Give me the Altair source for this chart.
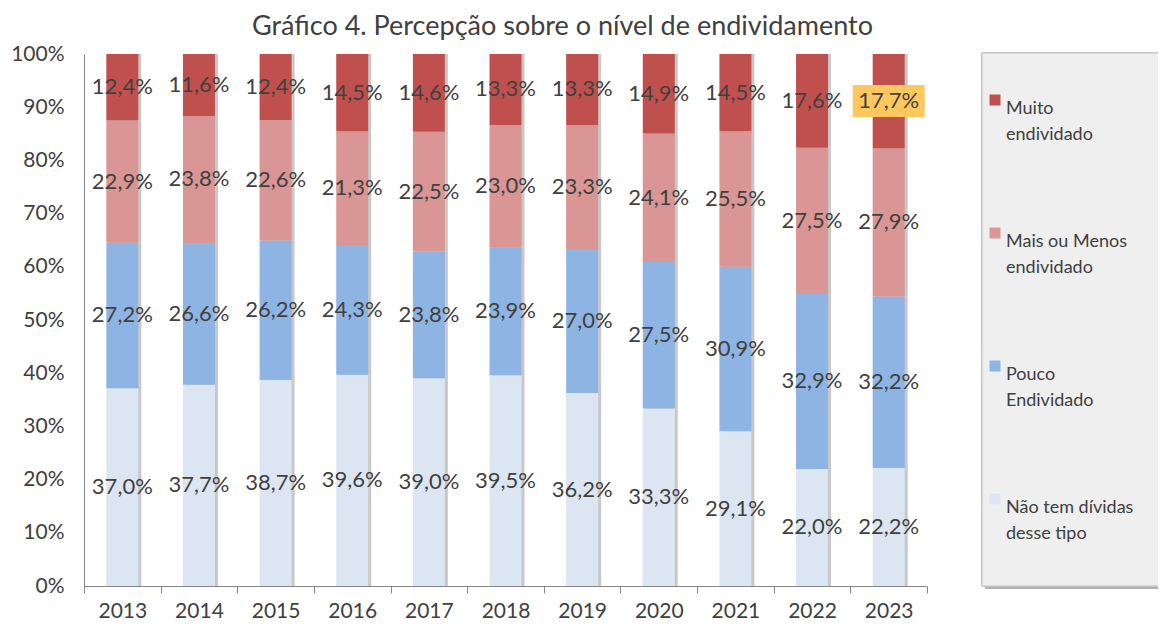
import altair as alt
import pandas as pd

years = ["2013", "2014", "2015", "2016", "2017", "2018", "2019", "2020", "2021", "2022", "2023"]
categories = ["Muito endividado", "Mais ou Menos endividado", "Pouco Endividado", "Não tem dívidas desse tipo"]
legend_lines = {
    "Muito endividado": ["Muito", "endividado"],
    "Mais ou Menos endividado": ["Mais ou Menos", "endividado"],
    "Pouco Endividado": ["Pouco", "Endividado"],
    "Não tem dívidas desse tipo": ["Não tem dívidas", "desse tipo"],
}
colors = ["#c0504d", "#d99694", "#8eb4e3", "#dce6f2"]

muito = [12.4, 11.6, 12.4, 14.5, 14.6, 13.3, 13.3, 14.9, 14.5, 17.6, 17.7]
mais_menos = [22.9, 23.8, 22.6, 21.3, 22.5, 23.0, 23.3, 24.1, 25.5, 27.5, 27.9]
pouco = [27.2, 26.6, 26.2, 24.3, 23.8, 23.9, 27.0, 27.5, 30.9, 32.9, 32.2]
nao_tem = [37.0, 37.7, 38.7, 39.6, 39.0, 39.5, 36.2, 33.3, 29.1, 22.0, 22.2]

highlight_year = "2023"
highlight_cat = "Muito endividado"

series = {
    "Não tem dívidas desse tipo": nao_tem,
    "Pouco Endividado": pouco,
    "Mais ou Menos endividado": mais_menos,
    "Muito endividado": muito,
}
stack_order = ["Não tem dívidas desse tipo", "Pouco Endividado", "Mais ou Menos endividado", "Muito endividado"]

rows = []
for cat, vals in series.items():
    for y, v in zip(years, vals):
        rows.append({"year": y, "cat": cat, "value": v, "ord": stack_order.index(cat)})
df = pd.DataFrame(rows)

FONT = "Lato"
TXT = "#404040"

expr = "datum.label"
for k, v in legend_lines.items():
    expr = f"datum.label == '{k}' ? ['{v[0]}', '{v[1]}'] : (" + expr + ")"

base = alt.Chart(df).transform_stack(
    stack="value", groupby=["year"], as_=["v0", "v1"], offset="normalize",
    sort=[alt.SortField("ord", order="ascending")]
).transform_calculate(
    mid="(datum.v0 + datum.v1) / 2",
    lbl="replace(format(datum.value, '.1f'), '.', ',') + '%'",
)

xenc = alt.X("year:N", sort=years, title=None,
             scale=alt.Scale(paddingInner=0, paddingOuter=0),
             axis=alt.Axis(labelAngle=0, tickBand="extent", ticks=True, tickSize=7,
                           tickColor="#868686", domainColor="#868686", labelPadding=7,
                           labelFont=FONT, labelFontSize=21, labelColor=TXT))
yscale = alt.Scale(domain=[0, 1], nice=False)
yenc = alt.Y("v0:Q", scale=yscale, title=None,
             axis=alt.Axis(values=[i / 10 for i in range(11)], format=".0%", ticks=False,
                           grid=False, domainColor="#868686", labelPadding=20,
                           labelFont=FONT, labelFontSize=21, labelColor=TXT))

legend_box_shadow = alt.Chart(df).mark_rect(fill="#b0b0b0", opacity=0.6).encode(
    x=alt.value(901), x2=alt.value(1090), y=alt.value(2), y2=alt.value(535)
)
legend_box = alt.Chart(df).mark_rect(fill="#efefef", stroke="#c4c4c4", strokeWidth=1).encode(
    x=alt.value(898), x2=alt.value(1090), y=alt.value(-1), y2=alt.value(532)
)

shadow = base.mark_bar(size=32, color="#9a9a9a", opacity=0.55, xOffset=3).encode(
    x=xenc, y=yenc, y2="v1:Q"
)

bars = base.mark_bar(size=32).encode(
    x=xenc,
    y=yenc,
    y2="v1:Q",
    color=alt.Color("cat:N", scale=alt.Scale(domain=categories, range=colors), title=None,
                    legend=alt.Legend(orient="none", legendX=902, legendY=37, symbolType="square",
                                      symbolSize=121, symbolStrokeWidth=0, labelFont=FONT,
                                      labelFontSize=18, labelColor=TXT, labelExpr=expr,
                                      labelBaseline="top", labelOffset=2, rowPadding=80,
                                      labelLimit=300, padding=0)),
    order=alt.Order("ord:Q", sort="ascending"),
)

hl = base.transform_filter(
    f"datum.year == '{highlight_year}' && datum.cat == '{highlight_cat}'"
).mark_point(shape="M-1,-0.444L1,-0.444L1,0.444L-1,0.444Z", size=5184, filled=True,
             fill="#ffc85f", opacity=1, strokeWidth=0).encode(
    x=alt.X("year:N", sort=years), y=alt.Y("mid:Q", scale=yscale)
)

labels = base.mark_text(font=FONT, fontSize=22, color=TXT, baseline="middle", align="center").encode(
    x=alt.X("year:N", sort=years), y=alt.Y("mid:Q", scale=yscale), text="lbl:N"
)

chart = alt.layer(legend_box_shadow, legend_box, shadow, bars, hl, labels).properties(
    width=843, height=532,
    title=alt.TitleParams("Gráfico 4. Percepção sobre o nível de endividamento", font=FONT,
                          fontSize=27, fontWeight="normal", color=TXT, anchor="middle",
                          dx=57, offset=2),
    autosize=alt.AutoSizeParams(type="none"),
    padding={"left": 76, "top": 46, "right": 231, "bottom": 34},
).configure(
    background="white",
    style={"guide-label": {"lineHeight": 26}},
).configure_view(stroke=None)

chart.save("out.html", embed_options={"renderer": "svg", "actions": False})
